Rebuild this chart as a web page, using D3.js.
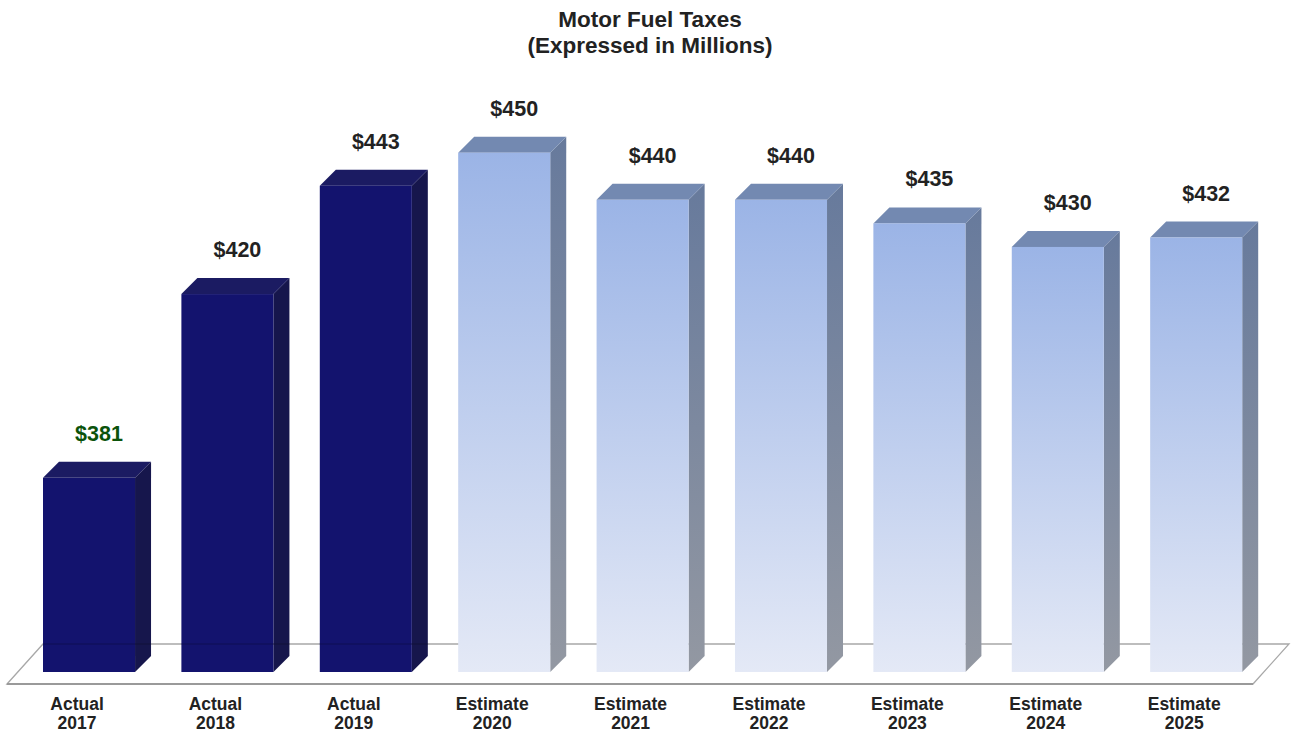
<!DOCTYPE html>
<html>
<head>
<meta charset="utf-8">
<script src="https://cdn.jsdelivr.net/npm/d3@7"></script>
<style>
  html, body { margin: 0; padding: 0; background: #ffffff; }
  svg { display: block; font-family: "Liberation Sans", Arial, sans-serif; }
</style>
</head>
<body>
<svg id="chart" width="1291" height="733"></svg>
<script>
// ---- data ----
const kinds  = ["Actual", "Actual", "Actual", "Estimate", "Estimate", "Estimate", "Estimate", "Estimate", "Estimate"];
const years  = ["2017", "2018", "2019", "2020", "2021", "2022", "2023", "2024", "2025"];
const values = [381, 420, 443, 450, 440, 440, 435, 430, 432];
const valueLabels = ["$381", "$420", "$443", "$450", "$440", "$440", "$435", "$430", "$432"];
const titleLines = ["Motor Fuel Taxes", "(Expressed in Millions)"];

// ---- layout ----
const svg = d3.select("#chart");
const depth = 16;
const baseY = 672;

const x = d3.scaleBand().domain(years).range([43, 1242.2]).paddingInner(0.335).paddingOuter(0);
const y = d3.scaleLinear().domain([339.8, 450]).range([baseY, 152.7]);

const defs = svg.append("defs");
const gFront = defs.append("linearGradient").attr("id", "estFront").attr("x1", 0).attr("y1", 0).attr("x2", 0).attr("y2", 1);
gFront.append("stop").attr("offset", "0%").attr("stop-color", "#9bb4e6");
gFront.append("stop").attr("offset", "100%").attr("stop-color", "#e4e9f6");
const gSide = defs.append("linearGradient").attr("id", "estSide").attr("x1", 0).attr("y1", 0).attr("x2", 0).attr("y2", 1);
gSide.append("stop").attr("offset", "0%").attr("stop-color", "#677a9c");
gSide.append("stop").attr("offset", "100%").attr("stop-color", "#9398a2");

// title
svg.append("g").selectAll("text").data(titleLines).join("text")
  .attr("x", 650).attr("y", (d, i) => 26.5 + i * 26.5)
  .attr("text-anchor", "middle")
  .attr("font-size", 22.5).attr("font-weight", "bold").attr("fill", "#222")
  .text(d => d);

// floor
const floorFrontY = 684, floorBackY = 644;
const fl = 7, fr = 1253, fdx = 36;
svg.append("path")
  .attr("d", `M${fl},${floorFrontY} L${fl + fdx},${floorBackY} L${fr + fdx},${floorBackY} L${fr},${floorFrontY} Z`)
  .attr("fill", "#ffffff").attr("stroke", "#a8a8a8").attr("stroke-width", 1.3);
svg.append("line").attr("x1", fl).attr("x2", fr).attr("y1", floorFrontY).attr("y2", floorFrontY)
  .attr("stroke", "#9a9a9a").attr("stroke-width", 2);

// bars
const bars = svg.append("g").selectAll("g").data(values.map((v, i) => ({v, i}))).join("g");
const bw = x.bandwidth();

bars.each(function(d) {
  const g = d3.select(this);
  const x0 = x(years[d.i]);
  const x1 = x0 + bw;
  const yt = y(d.v);
  const actual = kinds[d.i] === "Actual";
  // side
  g.append("path")
    .attr("d", `M${x1},${yt} L${x1 + depth},${yt - depth} L${x1 + depth},${baseY - depth} L${x1},${baseY} Z`)
    .attr("fill", actual ? "#16164c" : "url(#estSide)");
  // top
  g.append("path")
    .attr("d", `M${x0},${yt} L${x0 + depth},${yt - depth} L${x1 + depth},${yt - depth} L${x1},${yt} Z`)
    .attr("fill", actual ? "#1b1b62" : "#7389b1");
  // front
  g.append("rect")
    .attr("x", x0).attr("y", yt).attr("width", bw).attr("height", baseY - yt)
    .attr("fill", actual ? "#13136e" : "url(#estFront)");
  if (actual) {
    g.append("line").attr("x1", x0).attr("x2", x1 + depth).attr("y1", floorBackY).attr("y2", floorBackY)
      .attr("stroke", "#000").attr("stroke-opacity", 0.25).attr("stroke-width", 1.2);
  }
  // value label
  g.append("text")
    .attr("x", x0 + bw / 2 + 10).attr("y", yt - depth - 21)
    .attr("text-anchor", "middle")
    .attr("font-size", 21.5).attr("font-weight", "bold")
    .attr("fill", d.i === 0 ? "#0b530b" : "#222")
    .text(valueLabels[d.i]);
  // category label
  const t = g.append("text")
    .attr("text-anchor", "middle")
    .attr("font-size", 17.5).attr("font-weight", "bold").attr("fill", "#222");
  t.append("tspan").attr("x", x0 + bw / 2 - 12).attr("y", 710).text(kinds[d.i]);
  t.append("tspan").attr("x", x0 + bw / 2 - 12).attr("y", 728.5).text(years[d.i]);
});
</script>
</body>
</html>
